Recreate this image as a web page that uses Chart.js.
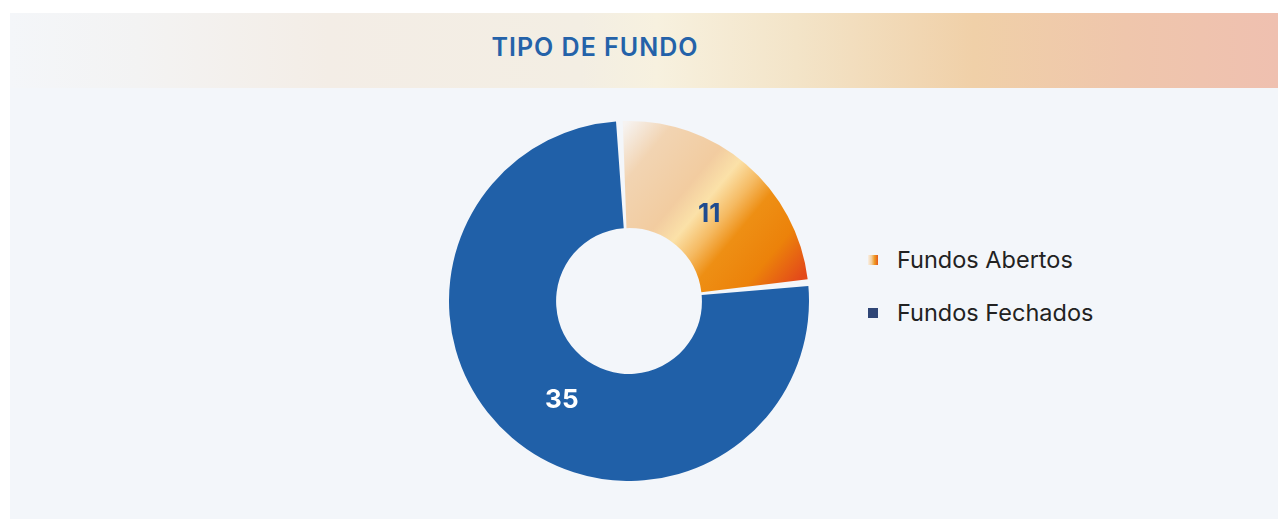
<!DOCTYPE html>
<html>
<head>
<meta charset="utf-8">
<script src="https://cdn.jsdelivr.net/npm/chart.js@4.4.1/dist/chart.umd.min.js"></script>
<style>
  html, body { margin: 0; padding: 0; background: #ffffff; width: 1278px; height: 519px; overflow: hidden; }
  #panel { position: absolute; left: 10px; top: 13px; right: 0; bottom: 0; background: #f3f6fa; }
  #header {
    position: absolute; left: 10px; top: 13px; right: 0; height: 75px;
    background: linear-gradient(90deg, #f4f6f9 0%, #f3f3f3 10%, #f3ede6 25%, #f3eee3 45%, #f7f1df 51%, #f3e4c8 62%, #f0d0a8 76%, #efc6ac 88%, #efc0b0 100%);
  }
  #title {
    position: absolute; left: 0; width: 1190px; top: 13px; height: 75px; line-height: 68px;
    text-align: center; font-family: Inter, sans-serif; font-weight: 600; font-size: 25px; letter-spacing: 1px; color: #2462a9;
  }
  #wrap { position: absolute; left: 449px; top: 121px; width: 360px; height: 360px; }
  #legend { position: absolute; left: 868px; top: 244px; font-family: Inter, sans-serif; font-size: 23.5px; color: #222; }
  .item { height: 53px; display: flex; align-items: flex-start; }
  .item span.box { width: 10px; height: 10px; margin-top: 11px; margin-right: 19px; }
  .item span.txt { line-height: 32px; }
</style>
</head>
<body>
<div id="panel"></div>
<div id="header"></div>
<div id="title">TIPO DE FUNDO</div>
<div id="wrap"><canvas id="fund_chart"></canvas></div>
<div id="legend"></div>
<script>
const labels = ['Fundos Abertos', 'Fundos Fechados'];
const valores = [11, 35];
const legendColors = ['linear-gradient(90deg, #f9efe4 0%, #f3cf9f 35%, #ef9a25 65%, #e35a1a 100%)', '#2f4676'];
const labelColors = ['#1f4b8f', '#ffffff'];

const ctx = document.getElementById('fund_chart');

function sliceColor(context) {
    if (context.dataIndex === 1) return '#2060a8';
    const chart = context.chart;
    const area = chart.chartArea;
    if (!area) return '#f2c896';
    const cx = (area.left + area.right) / 2;
    const cy = (area.top + area.bottom) / 2;
    const r = Math.min(area.right - area.left, area.bottom - area.top) / 2;
    const g = chart.ctx.createLinearGradient(cx - 0.02 * r, cy - 0.99 * r, cx + 0.98 * r, cy - 0.16 * r);
    g.addColorStop(0, '#f6f3f1');
    g.addColorStop(0.16, '#f2d4b2');
    g.addColorStop(0.38, '#f2cca0');
    g.addColorStop(0.48, '#fbe1a8');
    g.addColorStop(0.58, '#f5ba62');
    g.addColorStop(0.67, '#ee8f14');
    g.addColorStop(0.84, '#ec820a');
    g.addColorStop(1, '#e34a1a');
    return g;
}

// small nudges for the value labels (px)
const nudge = [[-2, 9], [15, 3]];

const valueLabels = {
    id: 'valueLabels',
    afterDatasetsDraw(chart) {
        const c = chart.ctx;
        const meta = chart.getDatasetMeta(0);
        meta.data.forEach((arc, i) => {
            const pos = arc.tooltipPosition();
            c.save();
            c.font = '700 26px Inter, sans-serif';
            c.fillStyle = labelColors[i];
            c.textAlign = 'center';
            c.textBaseline = 'middle';
            c.fillText(String(valores[i]), pos.x + nudge[i][0], pos.y + nudge[i][1]);
            c.restore();
        });
    }
};

let chart = new Chart(ctx, {
    type: 'doughnut',
    data: {
        labels: labels,
        datasets: [{
            data: valores,
            backgroundColor: sliceColor,
            hoverBackgroundColor: sliceColor,
            borderWidth: 0,
            spacing: 3,
            hoverOffset: 0
        }]
    },
    options: {
        responsive: true,
        maintainAspectRatio: false,
        animation: false,
        cutout: '40%',
        rotation: -2.5,
        layout: { padding: 0 },
        plugins: {
            legend: { display: false },
            tooltip: { enabled: false }
        }
    },
    plugins: [valueLabels]
});

const legendEl = document.getElementById('legend');
labels.forEach((nome, i) => {
    const item = document.createElement('div');
    item.className = 'item';
    item.innerHTML = '<span class="box" style="background:' + legendColors[i] + '"></span><span class="txt">' + nome + '</span>';
    legendEl.appendChild(item);
});
</script>
</body>
</html>
